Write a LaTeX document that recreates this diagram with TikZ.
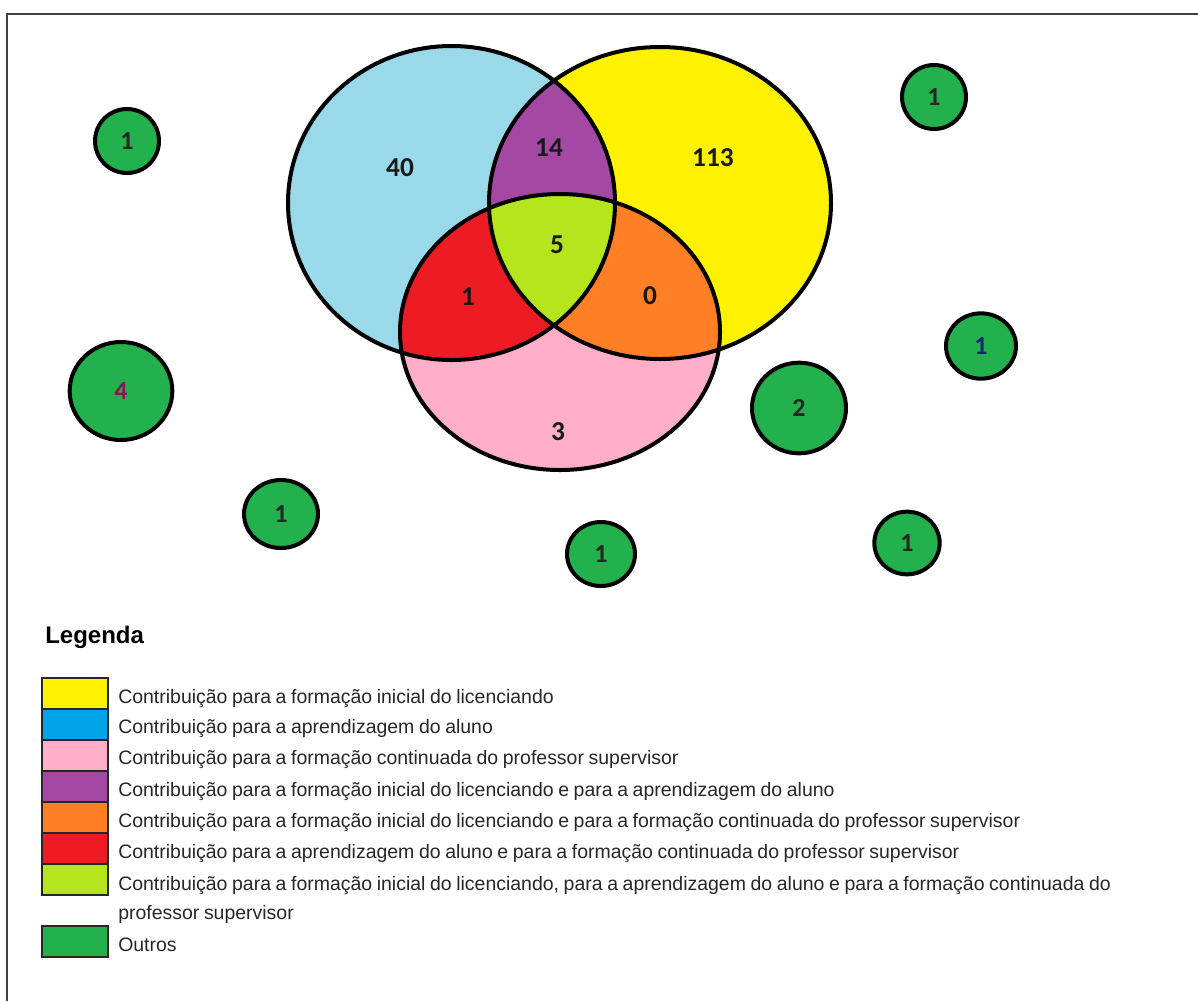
\documentclass[tikz,border=0pt]{standalone}
\usepackage{fontspec}
\setmainfont{Liberation Sans}[WordSpace=0.85]
\newfontfamily\numfont{Carlito}
\usetikzlibrary{shapes.geometric}
\definecolor{cblue}{HTML}{99D9EA}
\definecolor{cblueleg}{HTML}{00A2E8}
\definecolor{cyellow}{HTML}{FFF200}
\definecolor{cpink}{HTML}{FFAEC9}
\definecolor{cpurple}{HTML}{A349A4}
\definecolor{corange}{HTML}{FF7F27}
\definecolor{cred}{HTML}{ED1C24}
\definecolor{clime}{HTML}{B5E61D}
\definecolor{cgreen}{HTML}{22B14C}
\definecolor{ctext}{HTML}{262626}
\definecolor{cframe}{HTML}{404040}
\definecolor{cmag}{HTML}{8A1458}
\definecolor{cnavy}{HTML}{1A2080}
\begin{document}
\begin{tikzpicture}[x=0.75pt,y=-0.75pt,
  vline/.style={line width=3pt, draw=black},
  vnum/.style={font=\numfont\bfseries\fontsize{20.5}{22}\selectfont, inner sep=0pt, text=black!90},
  gdot/.style={ellipse, draw=black, line width=3pt, fill=cgreen, inner sep=0pt,
     font=\numfont\bfseries\fontsize{19.5}{21}\selectfont, text=black!85},
  legbox/.style={rectangle, draw=black!85, line width=1.5pt, minimum width=49.5pt, minimum height=23.25pt, inner sep=0pt},
  legtext/.style={font=\fontsize{14.6}{17}\selectfont, inner sep=0pt, anchor=base west, text=ctext},
  frameline/.style={draw=cframe, line width=1.5pt}]
\useasboundingbox (0,0) rectangle (1198,1001);
% frame
\coordinate (fa) at (7,1001);
\coordinate (fb) at (7,14);
\coordinate (fc) at (1198,14);
\draw[frameline] (fa) -- (fb) -- (fc);
% Venn diagram
\def\blueE{(451.5,203) ellipse [x radius=163.5, y radius=157]}
\def\yellowE{(660,203) ellipse [x radius=171, y radius=156]}
\def\pinkE{(560,332) ellipse [x radius=160, y radius=138]}
\fill[cblue] \blueE;
\fill[cyellow] \yellowE;
\fill[cpink] \pinkE;
\begin{scope}\clip \blueE; \fill[cpurple] \yellowE; \end{scope}
\begin{scope}\clip \blueE; \fill[cred] \pinkE; \end{scope}
\begin{scope}\clip \yellowE; \fill[corange] \pinkE; \end{scope}
\begin{scope}\clip \blueE; \clip \yellowE; \fill[clime] \pinkE; \end{scope}
\draw[vline] \blueE;
\draw[vline] \yellowE;
\draw[vline] \pinkE;
\node[vnum] (n40) at (400,168) {40};
\node[vnum] (n14) at (549,148) {14};
\node[vnum] (n113) at (713,158) {113};
\node[vnum] (n5) at (557,245) {5};
\node[vnum] (n1) at (468,297) {1};
\node[vnum] (n0) at (650,296) {0};
\node[vnum] (n3) at (558,432) {3};
% other (green) circles
\node[gdot, minimum width=48pt, minimum height=48pt] (g1) at (127,141) {1};
\node[gdot, minimum width=77pt, minimum height=73.5pt, text=cmag] (g2) at (121,391) {4};
\node[gdot, minimum width=55.5pt, minimum height=51pt] (g3) at (281,514) {1};
\node[gdot, minimum width=51pt, minimum height=48pt] (g4) at (601,554) {1};
\node[gdot, minimum width=49pt, minimum height=47pt] (g5) at (907,543) {1};
\node[gdot, minimum width=70.5pt, minimum height=68pt] (g6) at (799,408) {2};
\node[gdot, minimum width=52.5pt, minimum height=49pt, text=cnavy] (g7) at (981,346) {1};
\node[gdot, minimum width=48pt, minimum height=48pt] (g8) at (934,97) {1};
% legend
\node[font=\bfseries\fontsize{18}{20}\selectfont, inner sep=0pt, anchor=base west] (leg) at (45,643) {Legenda};
\node[legbox, fill=cyellow] (k1) at (75,693.5) {};
\node[legbox, fill=cblueleg] (k2) at (75,724.5) {};
\node[legbox, fill=cpink] (k3) at (75,755.5) {};
\node[legbox, fill=cpurple] (k4) at (75,786.5) {};
\node[legbox, fill=corange] (k5) at (75,817.5) {};
\node[legbox, fill=cred] (k6) at (75,848.5) {};
\node[legbox, fill=clime] (k7) at (75,879.5) {};
\node[legbox, fill=cgreen] (k8) at (75,941.5) {};
\node[legtext] (t1) at (118,703) {Contribuição para a formação inicial do licenciando};
\node[legtext] (t2) at (118,733) {Contribuição para a aprendizagem do aluno};
\node[legtext] (t3) at (118,764) {Contribuição para a formação continuada do professor supervisor};
\node[legtext] (t4) at (118,796) {Contribuição para a formação inicial do licenciando e para a aprendizagem do aluno};
\node[legtext] (t5) at (118,827) {Contribuição para a formação inicial do licenciando e para a formação continuada do professor supervisor};
\node[legtext] (t6) at (118,858) {Contribuição para a aprendizagem do aluno e para a formação continuada do professor supervisor};
\node[legtext] (t7) at (118,890) {Contribuição para a formação inicial do licenciando, para a aprendizagem do aluno e para a formação continuada do};
\node[legtext] (t7b) at (118,919) {professor supervisor};
\node[legtext] (t8) at (118,951) {Outros};
\end{tikzpicture}
\end{document}
